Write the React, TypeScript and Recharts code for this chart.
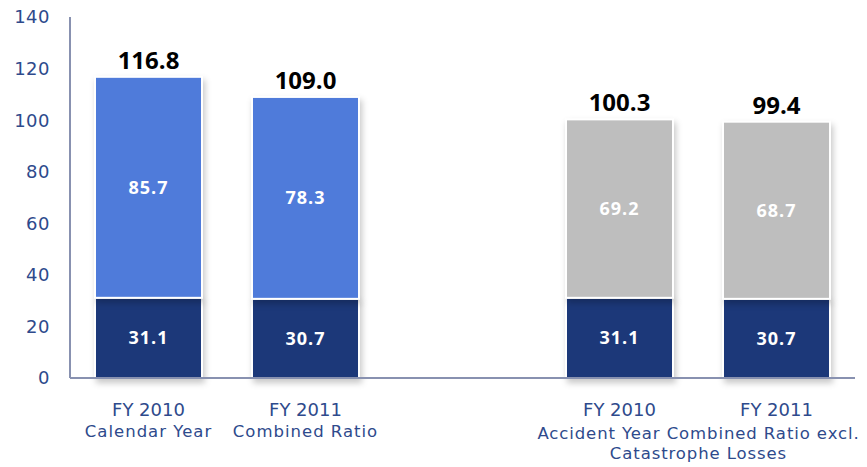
import React from "react";
import {
  BarChart,
  Bar,
  XAxis,
  YAxis,
  Cell,
  LabelList,
} from "recharts";

const categories = ["FY 2010", "FY 2011", "", "FY 2010", "FY 2011"];
const subLabels = ["Calendar Year", "Combined Ratio", "", "", ""];
const groupLabels = ["Accident Year Combined Ratio excl.", "Catastrophe Losses"];
const baseValues = [31.1, 30.7, null, 31.1, 30.7];
const topValues = [85.7, 78.3, null, 69.2, 68.7];
const totals = [116.8, 109.0, null, 100.3, 99.4];
const yTicks = [0, 20, 40, 60, 80, 100, 120, 140];

const NAVY = "#1C3879";
const BLUE = "#4F7BDA";
const GRAY = "#BEBEBE";
const TEXT = "#2E4A8C";
const AXIS = "#8891B0";
const topColors = [BLUE, BLUE, BLUE, GRAY, GRAY];

const data = categories.map((name, i) => ({
  name,
  base: baseValues[i],
  top: topValues[i],
  total: totals[i],
}));

const ShadowRect = (props: any) => {
  const { x, y, width, height, fill } = props;
  if (!height || height <= 0) return null;
  return (
    <rect
      x={x}
      y={y}
      width={width}
      height={height}
      fill={fill}
      stroke="#ffffff"
      strokeWidth={2}
      style={{ filter: "drop-shadow(2px 4px 3px rgba(0,0,0,0.22))" }}
    />
  );
};

const XTick = (props: any) => {
  const { x, y, payload, index } = props;
  const i = payload?.index ?? index;
  const font = "'DejaVu Sans', sans-serif";
  return (
    <g>
      <text x={x} y={y + 30} textAnchor="middle" fill={TEXT} fontSize={18} fontFamily={font}>
        {categories[i]}
      </text>
      {subLabels[i] && (
        <text
          x={x}
          y={y + 51}
          textAnchor="middle"
          fill={TEXT}
          fontSize={16.5}
          letterSpacing={1}
          fontFamily={font}
        >
          {subLabels[i]}
        </text>
      )}
      {i === 3 &&
        groupLabels.map((t, k) => (
          <text
            key={t}
            x={x + 79}
            y={y + 53 + k * 20}
            textAnchor="middle"
            fill={TEXT}
            fontSize={16.5}
            letterSpacing={0.9}
            fontFamily={font}
          >
            {t}
          </text>
        ))}
    </g>
  );
};

export default function App() {
  return (
    <div style={{ position: "absolute", left: 0, top: 0, background: "#fff" }}>
      <BarChart
        width={867}
        height={467}
        data={data}
        margin={{ top: 17, right: 12, left: 0, bottom: 0 }}
        barSize={107}
      >
        <XAxis
          dataKey="name"
          height={89}
          tickLine={false}
          axisLine={{ stroke: AXIS, strokeWidth: 2 }}
          tick={<XTick />}
          interval={0}
        />
        <YAxis
          width={70}
          domain={[0, 140]}
          ticks={yTicks}
          tickLine={false}
          axisLine={{ stroke: AXIS, strokeWidth: 2 }}
          tick={{ fill: TEXT, fontSize: 18, fontFamily: "'DejaVu Sans', sans-serif", letterSpacing: 0.5 }}
          tickMargin={14}
        />
        <Bar dataKey="base" stackId="a" fill={NAVY} shape={<ShadowRect />} isAnimationActive={false}>
          <LabelList
            dataKey="base"
            position="center"
            fill="#ffffff"
            fontSize={18}
            fontWeight="bold"
            letterSpacing={1}
            fontFamily="'Open Sans', sans-serif"
            formatter={(v: any) => (v == null ? "" : Number(v).toFixed(1))}
          />
        </Bar>
        <Bar dataKey="top" stackId="a" shape={<ShadowRect />} isAnimationActive={false}>
          {data.map((d, i) => (
            <Cell key={i} fill={topColors[i]} />
          ))}
          <LabelList
            dataKey="top"
            position="center"
            fill="#ffffff"
            fontSize={18}
            fontWeight="bold"
            letterSpacing={1}
            fontFamily="'Open Sans', sans-serif"
            formatter={(v: any) => (v == null ? "" : Number(v).toFixed(1))}
          />
          <LabelList
            dataKey="total"
            position="top"
            offset={8}
            fill="#000000"
            fontSize={24}
            fontWeight="bold"
            fontFamily="'Open Sans', sans-serif"
            formatter={(v: any) => (v == null ? "" : Number(v).toFixed(1))}
          />
        </Bar>
      </BarChart>
    </div>
  );
}
